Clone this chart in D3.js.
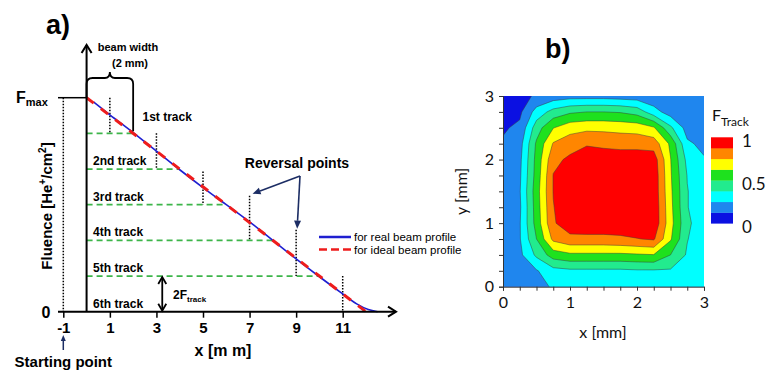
<!DOCTYPE html>
<html>
<head>
<meta charset="utf-8">
<script src="https://cdn.jsdelivr.net/npm/d3@7"></script>
<style>
  body { margin: 0; background: #fff; }
  svg { display: block; }
</style>
</head>
<body>
<svg id="chart" width="767" height="372"></svg>
<script>
// ---- panel a: fluence along the scan (F in units of F_track, F_max = 6) ----
const xTicks = [-1, 1, 3, 5, 7, 9, 11];
const fMax = 6;
const idealProfile = [[0, 6], [12, 0]];
const realProfile = [
  [0.3, 5.88], [1, 5.52], [2, 5.02], [3, 4.5], [4, 3.98], [5, 3.48], [6, 3.0],
  [7, 2.52], [8, 2.0], [9, 1.48], [10, 0.98], [11, 0.5], [11.6, 0.22], [12.1, 0.06], [12.5, 0]
];
const trackLevels = [5, 4, 3, 2, 1];       // green dashed levels
const trackEnds = [2, 4, 6, 8, 10];         // x where each level meets the profile
const trackNames = ['1st track', '2nd track', '3rd track', '4th track', '5th track', '6th track'];
const trackNameLevels = [5.5, 4, 3, 2, 1, 0];
const reversalX = [1, 3, 5, 7, 9, 11];
const reversalTop = [6, 5, 3.93, 3.25, 2.3, 1];
const reversalBottom = [5, 4, 3, 2, 1, 0];

// ---- panel b: F_track map, rows from y = 3 mm (top) to y = 0, columns x = 0..3 mm step 0.25 ----
const gridStep = 0.25;
const fluenceGrid = [
  [0.03, 0.09, 0.14, 0.18, 0.20, 0.20, 0.20, 0.19, 0.18, 0.16, 0.15, 0.14, 0.13],
  [0.06, 0.10, 0.30, 0.42, 0.48, 0.50, 0.50, 0.49, 0.45, 0.30, 0.19, 0.17, 0.15],
  [0.11, 0.15, 0.44, 0.62, 0.70, 0.72, 0.72, 0.71, 0.70, 0.64, 0.40, 0.20, 0.18],
  [0.14, 0.20, 0.52, 0.76, 0.82, 0.86, 0.84, 0.83, 0.83, 0.82, 0.60, 0.27, 0.22],
  [0.15, 0.22, 0.54, 0.84, 0.90, 0.96, 0.96, 0.95, 0.95, 0.94, 0.63, 0.34, 0.26],
  [0.16, 0.23, 0.55, 0.88, 0.96, 0.97, 0.97, 0.97, 0.97, 0.96, 0.64, 0.37, 0.29],
  [0.17, 0.24, 0.57, 0.88, 0.96, 0.97, 0.97, 0.97, 0.97, 0.96, 0.65, 0.38, 0.30],
  [0.17, 0.23, 0.56, 0.87, 0.96, 0.97, 0.97, 0.97, 0.97, 0.97, 0.66, 0.38, 0.30],
  [0.17, 0.24, 0.55, 0.86, 0.95, 0.96, 0.96, 0.96, 0.96, 0.97, 0.67, 0.40, 0.30],
  [0.18, 0.24, 0.50, 0.78, 0.84, 0.84, 0.84, 0.85, 0.87, 0.89, 0.64, 0.38, 0.30],
  [0.17, 0.22, 0.40, 0.56, 0.60, 0.60, 0.60, 0.60, 0.61, 0.62, 0.50, 0.36, 0.30],
  [0.16, 0.20, 0.24, 0.33, 0.35, 0.35, 0.35, 0.35, 0.36, 0.36, 0.36, 0.33, 0.30],
  [0.15, 0.17, 0.22, 0.26, 0.28, 0.28, 0.28, 0.28, 0.28, 0.28, 0.29, 0.29, 0.28]
];
const bandThresholds = [0.125, 0.25, 0.375, 0.5, 0.625, 0.75, 0.875];
const bandColors = ['#0b10e2', '#1f86ee', '#00ffff', '#22eb8e', '#1ee11e', '#ffff00', '#ff8600', '#ff0000'];
const mapTicks = [0, 1, 2, 3];
const colorbarTicks = [0, 0.5, 1];

const svg = d3.select('#chart');
const boldFont = '"Liberation Sans", Arial, sans-serif';
const navy = '#1c2d64';

// ================= panel a =================
const xa = d3.scaleLinear().domain([-1, 11]).range([63.3, 342.7]);
const ya = d3.scaleLinear().domain([0, fMax]).range([311.7, 97.7]);
const ga = svg.append('g').attr('font-family', boldFont);

ga.append('text').attr('x', 46).attr('y', 34).attr('font-size', 27).attr('font-weight', 'bold').text('a)');

// starting-point dotted line
ga.append('line')
  .attr('x1', xa(-1)).attr('x2', xa(-1)).attr('y1', ya(fMax)).attr('y2', ya(0))
  .attr('stroke', '#000').attr('stroke-width', 1.5).attr('stroke-dasharray', '1.5,1.5');

// green track levels
ga.selectAll('line.track').data(trackLevels).enter().append('line')
  .attr('class', 'track')
  .attr('x1', xa(0)).attr('x2', (d, i) => xa(trackEnds[i]))
  .attr('y1', d => ya(d)).attr('y2', d => ya(d))
  .attr('stroke', '#3db54a').attr('stroke-width', 1.8).attr('stroke-dasharray', '6,4');

// reversal dotted lines
ga.selectAll('line.rev').data(reversalX).enter().append('line')
  .attr('class', 'rev')
  .attr('x1', d => xa(d)).attr('x2', d => xa(d))
  .attr('y1', (d, i) => ya(reversalTop[i])).attr('y2', (d, i) => ya(reversalBottom[i]))
  .attr('stroke', '#000').attr('stroke-width', 1.5).attr('stroke-dasharray', '1.5,1.5');

// profiles
ga.append('path').datum(realProfile)
  .attr('d', d3.line().x(d => xa(d[0])).y(d => ya(d[1])).curve(d3.curveMonotoneX))
  .attr('fill', 'none').attr('stroke', '#1f1fd0').attr('stroke-width', 1.6);
ga.append('path').datum(idealProfile)
  .attr('d', d3.line().x(d => xa(d[0])).y(d => ya(d[1])))
  .attr('fill', 'none').attr('stroke', '#ee1c1c').attr('stroke-width', 3).attr('stroke-dasharray', '9,9');

// axes
ga.append('line').attr('x1', xa(0)).attr('x2', xa(0)).attr('y1', ya(0)).attr('y2', 45)
  .attr('stroke', '#000').attr('stroke-width', 2);
ga.append('path').attr('d', `M${xa(0) - 5},53 L${xa(0)},45 L${xa(0) + 5},53`)
  .attr('fill', 'none').attr('stroke', '#000').attr('stroke-width', 2);
ga.append('line').attr('x1', 58).attr('x2', 396).attr('y1', ya(0)).attr('y2', ya(0))
  .attr('stroke', '#000').attr('stroke-width', 2);
ga.append('path').attr('d', `M388,${ya(0) - 5} L396,${ya(0)} L388,${ya(0) + 5}`)
  .attr('fill', 'none').attr('stroke', '#000').attr('stroke-width', 2);
ga.append('line').attr('x1', 58).attr('x2', xa(0)).attr('y1', ya(fMax)).attr('y2', ya(fMax))
  .attr('stroke', '#000').attr('stroke-width', 1.5);

const xAxisA = ga.append('g').attr('transform', `translate(0,${ya(0)})`)
  .call(d3.axisBottom(xa).tickValues(xTicks).tickFormat(d => String(d)).tickSize(6).tickPadding(5));
xAxisA.select('.domain').remove();
xAxisA.selectAll('line').attr('stroke-width', 1.5);
xAxisA.selectAll('text').attr('font-family', boldFont).attr('font-size', 15).attr('font-weight', 'bold');

ga.append('text').attr('x', 46).attr('y', ya(0) + 6).attr('text-anchor', 'middle')
  .attr('font-size', 16).attr('font-weight', 'bold').text('0');
const fm = ga.append('text').attr('x', 16).attr('y', ya(fMax) + 5).attr('font-size', 16).attr('font-weight', 'bold');
fm.append('tspan').text('F');
fm.append('tspan').attr('font-size', 11).attr('dy', 3).text('max');

const yl = ga.append('text').attr('transform', 'translate(52,206) rotate(-90)')
  .attr('text-anchor', 'middle').attr('font-size', 15).attr('font-weight', 'bold');
yl.append('tspan').text('Fluence [He');
yl.append('tspan').attr('font-size', 10).attr('dy', -6).text('+');
yl.append('tspan').attr('dy', 6).text('/cm');
yl.append('tspan').attr('font-size', 10).attr('dy', -6).text('2');
yl.append('tspan').attr('dy', 6).text(']');

ga.append('text').attr('x', 223).attr('y', 356).attr('text-anchor', 'middle')
  .attr('font-size', 16).attr('font-weight', 'bold').text('x [m m]');
ga.append('text').attr('x', xa(-1)).attr('y', 367).attr('text-anchor', 'middle')
  .attr('font-size', 15).attr('font-weight', 'bold').text('Starting point');
ga.append('line').attr('x1', xa(-1)).attr('x2', xa(-1)).attr('y1', 350).attr('y2', 339)
  .attr('stroke', navy).attr('stroke-width', 1.5);
ga.append('path').attr('d', `M${xa(-1) - 2.5},341 L${xa(-1)},335 L${xa(-1) + 2.5},341 Z`).attr('fill', navy);

// track names
ga.selectAll('text.tname').data(trackNames).enter().append('text')
  .attr('class', 'tname')
  .attr('x', (d, i) => i === 0 ? xa(2.4) : xa(0.28))
  .attr('y', (d, i) => i === 0 ? ya(trackNameLevels[i]) + 5 : ya(trackNameLevels[i]) - 4)
  .attr('font-size', 12).attr('font-weight', 'bold').text(d => d);

// beam width brace
const b0 = xa(0), b1 = xa(2), bm = (b0 + b1) / 2, bt = 78;
ga.append('path')
  .attr('d', `M${b0},${ya(fMax)} L${b0},${bt + 6} Q${b0},${bt} ${b0 + 6},${bt} L${bm - 5},${bt} Q${bm},${bt} ${bm},${bt - 6} Q${bm},${bt} ${bm + 5},${bt} L${b1 - 6},${bt} Q${b1},${bt} ${b1},${bt + 6} L${b1},${ya(5) - 2}`)
  .attr('fill', 'none').attr('stroke', '#000').attr('stroke-width', 1.8);
ga.append('text').attr('x', 128).attr('y', 51).attr('text-anchor', 'middle')
  .attr('font-size', 11).attr('font-weight', 'bold').text('beam width');
ga.append('text').attr('x', 130).attr('y', 67).attr('text-anchor', 'middle')
  .attr('font-size', 11).attr('font-weight', 'bold').text('(2 mm)');

// 2F_track double arrow
const dx = xa(3.25);
ga.append('line').attr('x1', dx).attr('x2', dx).attr('y1', ya(1) + 2).attr('y2', ya(0) - 2)
  .attr('stroke', '#000').attr('stroke-width', 1.8);
ga.append('path').attr('d', `M${dx - 4},${ya(1) + 8} L${dx},${ya(1) + 1} L${dx + 4},${ya(1) + 8}`)
  .attr('fill', 'none').attr('stroke', '#000').attr('stroke-width', 1.8);
ga.append('path').attr('d', `M${dx - 4},${ya(0) - 8} L${dx},${ya(0) - 1} L${dx + 4},${ya(0) - 8}`)
  .attr('fill', 'none').attr('stroke', '#000').attr('stroke-width', 1.8);
const tf = ga.append('text').attr('x', 173).attr('y', 299).attr('font-size', 12).attr('font-weight', 'bold');
tf.append('tspan').text('2F');
tf.append('tspan').attr('font-size', 8).attr('dy', 3).text('track');

// reversal points annotation
ga.append('text').attr('x', 297).attr('y', 168).attr('text-anchor', 'middle')
  .attr('font-size', 14).attr('font-weight', 'bold').text('Reversal points');
const ox = 300, oy = 176;
[[xa(7) + 3, ya(3.25) - 2], [xa(9) + 1, ya(2.3) - 1]].forEach(([tx, ty]) => {
  const ang = Math.atan2(ty - oy, tx - ox);
  const hx = tx - 8 * Math.cos(ang), hy = ty - 8 * Math.sin(ang);
  ga.append('line').attr('x1', ox).attr('y1', oy).attr('x2', hx).attr('y2', hy)
    .attr('stroke', navy).attr('stroke-width', 1.6);
  const px = -Math.sin(ang) * 3.5, py = Math.cos(ang) * 3.5;
  ga.append('path').attr('d', `M${tx},${ty} L${hx + px},${hy + py} L${hx - px},${hy - py} Z`).attr('fill', navy);
});

// legend
ga.append('line').attr('x1', 319).attr('x2', 351).attr('y1', 237).attr('y2', 237)
  .attr('stroke', '#1f1fd0').attr('stroke-width', 2.5);
ga.append('line').attr('x1', 319).attr('x2', 351).attr('y1', 249.5).attr('y2', 249.5)
  .attr('stroke', '#ee1c1c').attr('stroke-width', 2.5).attr('stroke-dasharray', '8,4');
ga.append('text').attr('x', 354).attr('y', 240.5).attr('font-size', 11.5).text('for real beam profile');
ga.append('text').attr('x', 354).attr('y', 253.5).attr('font-size', 11.5).text('for ideal beam profile');

// ================= panel b =================
const lightFont = 'Lato, "Open Sans", sans-serif';
const bx = d3.scaleLinear().domain([0, 3]).range([503, 704]);
const by = d3.scaleLinear().domain([0, 3]).range([286.7, 96]);
const gb = svg.append('g').attr('font-family', lightFont);

gb.append('text').attr('x', 545).attr('y', 58).attr('font-family', boldFont)
  .attr('font-size', 27).attr('font-weight', 'bold').text('b)');

gb.append('clipPath').attr('id', 'mapclip').append('rect')
  .attr('x', bx(0)).attr('y', by(3)).attr('width', bx(3) - bx(0)).attr('height', by(0) - by(3));

const nx = fluenceGrid[0].length, ny = fluenceGrid.length;
const contours = d3.contours().size([nx, ny]).thresholds(bandThresholds)(fluenceGrid.flat());
const proj = d3.geoTransform({
  point(gx, gy) {
    this.stream.point(bx((gx - 0.5) * gridStep), by(3 - (gy - 0.5) * gridStep));
  }
});
const geo = d3.geoPath(proj);
const mapG = gb.append('g').attr('clip-path', 'url(#mapclip)');
mapG.append('rect')
  .attr('x', bx(0)).attr('y', by(3)).attr('width', bx(3) - bx(0)).attr('height', by(0) - by(3))
  .attr('fill', bandColors[0]);
mapG.selectAll('path').data(contours).enter().append('path')
  .attr('d', geo)
  .attr('fill', (d, i) => bandColors[i + 1])
  .attr('stroke', '#3a3a3a').attr('stroke-width', 0.6).attr('stroke-opacity', 0.8);

const minorTicks = d3.range(0, 3.001, 0.25);
const fmtMap = d => mapTicks.includes(d) ? d : '';
const xAxisB = gb.append('g').attr('transform', `translate(0,${by(0)})`)
  .call(d3.axisBottom(bx).tickValues(minorTicks).tickFormat(fmtMap).tickSize(4).tickPadding(6));
const yAxisB = gb.append('g').attr('transform', `translate(${bx(0)},0)`)
  .call(d3.axisLeft(by).tickValues(minorTicks).tickFormat(fmtMap).tickSize(4).tickPadding(5));
[xAxisB, yAxisB].forEach(a => {
  a.select('.domain').attr('stroke', '#333');
  a.selectAll('line').attr('stroke', '#333');
  a.selectAll('text').attr('font-family', lightFont).attr('font-size', 16).attr('fill', '#111');
});

gb.append('text').attr('x', 603).attr('y', 338).attr('text-anchor', 'middle')
  .attr('font-size', 16).attr('fill', '#111').text('x [mm]');
gb.append('text').attr('transform', `translate(467,${(by(0) + by(3)) / 2}) rotate(-90)`)
  .attr('text-anchor', 'middle').attr('font-size', 16).attr('fill', '#111').text('y [mm]');

// colour bar
const cb = d3.scaleLinear().domain([0, 1]).range([223.3, 137.3]);
gb.selectAll('rect.band').data(bandColors).enter().append('rect')
  .attr('class', 'band')
  .attr('x', 711).attr('width', 22)
  .attr('y', (d, i) => cb((i + 1) / bandColors.length))
  .attr('height', (d, i) => cb(i / bandColors.length) - cb((i + 1) / bandColors.length) + 0.3)
  .attr('fill', d => d);
gb.selectAll('text.cbt').data(colorbarTicks).enter().append('text')
  .attr('class', 'cbt')
  .attr('x', 742).attr('y', d => cb(d) + 5).attr('dominant-baseline', 'middle')
  .attr('font-size', 17).attr('fill', '#111').text(d => d);
const ft = gb.append('text').attr('x', 712).attr('y', 121).attr('font-size', 16).attr('fill', '#111');
ft.append('tspan').text('F');
ft.append('tspan').attr('font-size', 12).attr('dy', 5).text('Track');
</script>
</body>
</html>
